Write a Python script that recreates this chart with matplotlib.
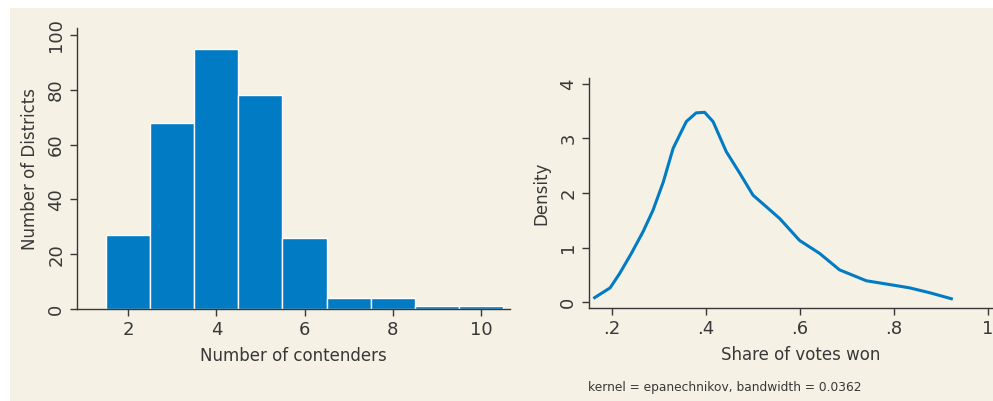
import matplotlib.pyplot as plt
from matplotlib.patches import Rectangle

# Daten: Histogramm (Anzahl Kandidaten je Bezirk)
contenders = [2, 3, 4, 5, 6, 7, 8, 9, 10]
districts = [27, 68, 95, 78, 26, 4, 4, 1, 1]

# Daten: Kerndichte (Stimmenanteil)
share = [0.163, 0.196, 0.216, 0.241, 0.266, 0.287, 0.309, 0.330, 0.358, 0.379,
         0.397, 0.415, 0.443, 0.472, 0.500, 0.528, 0.557, 0.599, 0.642, 0.684,
         0.741, 0.798, 0.833, 0.876, 0.922]
density = [0.08, 0.26, 0.52, 0.89, 1.29, 1.68, 2.20, 2.82, 3.31, 3.47,
           3.48, 3.31, 2.76, 2.36, 1.96, 1.75, 1.53, 1.13, 0.89, 0.59,
           0.39, 0.31, 0.26, 0.17, 0.06]

BG = "#f5f1e4"
BAR = "#007bc4"
TXT = "#383838"

plt.rcParams['font.family'] = ['DejaVu Sans']

fig = plt.figure(figsize=(9.93, 4.01), dpi=100, facecolor="white")
fig.patches.append(Rectangle((10 / 993, 0), 1, 393 / 401, transform=fig.transFigure,
                             facecolor=BG, edgecolor="none", zorder=-10))

W, H = 993, 401


def px_axes(x0, y0, x1, y1):
    # Pixelkoordinaten (oben links) -> Figurenkoordinaten
    return fig.add_axes([x0 / W, 1 - y1 / H, (x1 - x0) / W, (y1 - y0) / H])


def style(ax):
    ax.set_facecolor(BG)
    for s in ["top", "right"]:
        ax.spines[s].set_visible(False)
    for s in ["left", "bottom"]:
        ax.spines[s].set_color(TXT)
        ax.spines[s].set_linewidth(1.0)
    ax.tick_params(colors=TXT, labelsize=13, length=5, width=1.0)
    ax.tick_params(axis="y", labelrotation=90)
    for lab in ax.get_yticklabels():
        lab.set_va("center")


# Plot 1: Histogramm
ax1 = px_axes(77, 28, 510, 309)
ax1.bar(contenders, districts, width=1.0, color=BAR, edgecolor="white", linewidth=1.0)
ax1.set_xlim(0.84, 10.66)
ax1.set_ylim(0, 102.5)
ax1.set_xticks([2, 4, 6, 8, 10])
ax1.set_yticks([0, 20, 40, 60, 80, 100])
style(ax1)
ax1.set_xlabel("Number of contenders", fontsize=12, color=TXT, labelpad=6)
ax1.set_ylabel("Number of Districts", fontsize=12, color=TXT, labelpad=6)

# Plot 2: Dichte
ax2 = px_axes(589, 78, 993 + 20, 308)
ax2.plot(share, density, color=BAR, linewidth=2.2)
ax2.set_xlim(0.151, 1.0 + 25 / 470)
ax2.set_ylim(-0.11, 4.11)
ax2.set_xticks([0.2, 0.4, 0.6, 0.8, 1.0])
ax2.set_xticklabels([".2", ".4", ".6", ".8", "1"])
ax2.set_yticks([0, 1, 2, 3, 4])
style(ax2)
ax2.set_xlabel("Share of votes won", fontsize=12, color=TXT, labelpad=6)
ax2.set_ylabel("Density", fontsize=12, color=TXT, labelpad=6)
fig.text(588 / W, 1 - 388 / H, "kernel = epanechnikov, bandwidth = 0.0362",
         fontsize=8.8, color=TXT, va="center", ha="left")

fig.savefig("out.png", dpi=100, facecolor=fig.get_facecolor())
